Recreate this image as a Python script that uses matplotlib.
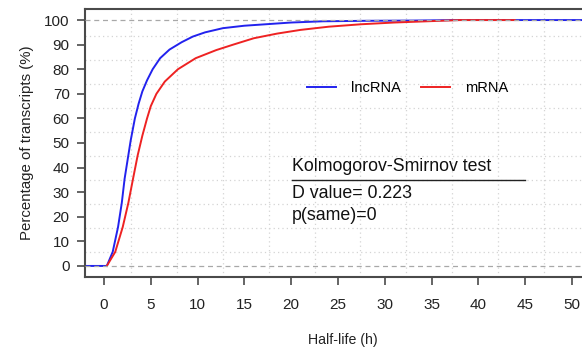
import numpy as np
import matplotlib.pyplot as plt

# cumulative curves
lnc_x = [-2, 0.3, 0.93, 1.5, 1.9, 2.2, 2.6, 2.85, 3.05, 3.3, 3.7, 4.1, 4.6, 5.2, 6.0,
         7.0, 8.3, 9.5, 10.8, 12.7, 15.0, 17.7, 20.0, 23.4, 28.0, 33.0, 37.7, 53]
lnc_y = [0, 0, 5.7, 15.8, 25.6, 35.4, 45, 51, 55, 60, 66, 71, 75.5, 80, 84.5,
         88, 91, 93.3, 95, 96.7, 97.7, 98.4, 99.0, 99.5, 99.7, 99.8, 100, 100]

mrna_x = [0.3, 1.2, 2.0, 2.6, 3.1, 3.6, 4.1, 4.6, 5.0, 5.6, 6.5, 7.9, 9.8, 12.0,
          13.8, 16.0, 18.5, 21.0, 24.0, 27.5, 31.0, 34.5, 38.0, 43.9]
mrna_y = [0, 5.7, 15.8, 25.6, 35.4, 45, 53, 60, 65, 70, 75, 80, 84.5, 87.8,
          90, 92.6, 94.5, 96.0, 97.3, 98.3, 99.0, 99.5, 100, 100]

x_ticks = [0, 5, 10, 15, 20, 25, 30, 35, 40, 45, 50]
y_ticks = [0, 10, 20, 30, 40, 50, 60, 70, 80, 90, 100]

plt.rcParams['font.family'] = ['Liberation Sans', 'DejaVu Sans']

fig = plt.figure(figsize=(5.82, 3.52), dpi=100)
ax = fig.add_axes([85 / 582, 1 - 277 / 352, 515 / 582, 268 / 352])
ax.set_xlim(-2.03, 53)
ax.set_ylim(-4.5, 104.5)

# dotted grid (offset like R's grid())
for gx in np.arange(2.9, 53, 4.9):
    ax.axvline(gx, color='#d4d4d4', lw=0.9, ls=(0, (1, 2.5)), zorder=0)
for gy in np.arange(5.5, 100, 9.8):
    ax.axhline(gy, color='#d4d4d4', lw=0.9, ls=(0, (1, 2.5)), zorder=0)

ax.plot(lnc_x, lnc_y, color='#2222ee', lw=1.4, label='lncRNA', zorder=2)
ax.plot(mrna_x, mrna_y, color='#ee2222', lw=1.4, label='mRNA', zorder=3)

ax.axhline(0, color='#a8a8a8', lw=0.9, ls=(0, (4, 3)), zorder=4)
ax.axhline(100, color='#a8a8a8', lw=0.9, ls=(0, (4, 3)), zorder=4)

for s in ['left', 'bottom', 'top', 'right']:
    ax.spines[s].set_color('#4a4a4a')
    ax.spines[s].set_linewidth(1.5)

ax.set_xticks(x_ticks)
ax.set_yticks(y_ticks)
ax.tick_params(axis='both', length=6, width=1.2, color='#4a4a4a',
               labelsize=11, labelcolor='#222222')
ax.tick_params(axis='x', pad=9)
ax.tick_params(axis='y', pad=5)

ax.set_xlabel('Half-life (h)', fontsize=10.2, color='#222222', labelpad=15)
ax.set_ylabel('Percentage of transcripts (%)', fontsize=10.8, color='#222222', labelpad=7)

fig.legend(loc='center left', bbox_to_anchor=(307 / 582, 1 - 88 / 352), ncol=2,
           frameon=False, fontsize=10.5, handlelength=2.0, handletextpad=1.0,
           columnspacing=1.4, borderpad=0, borderaxespad=0)

fig.text(292 / 582, 1 - 167 / 352, 'Kolmogorov-Smirnov test', fontsize=12.8,
         va='center', ha='left', color='#111111')
fig.add_artist(plt.Line2D([292 / 582, 525 / 582], [1 - 180 / 352, 1 - 180 / 352],
                          color='#222222', lw=1.0))
fig.text(292 / 582, 1 - 193 / 352, 'D value= 0.223', fontsize=12.8,
         va='center', ha='left', color='#111111')
fig.text(292 / 582, 1 - 215 / 352, 'p(same)=0', fontsize=12.8,
         va='center', ha='left', color='#111111')

fig.savefig('out.png', dpi=100)
